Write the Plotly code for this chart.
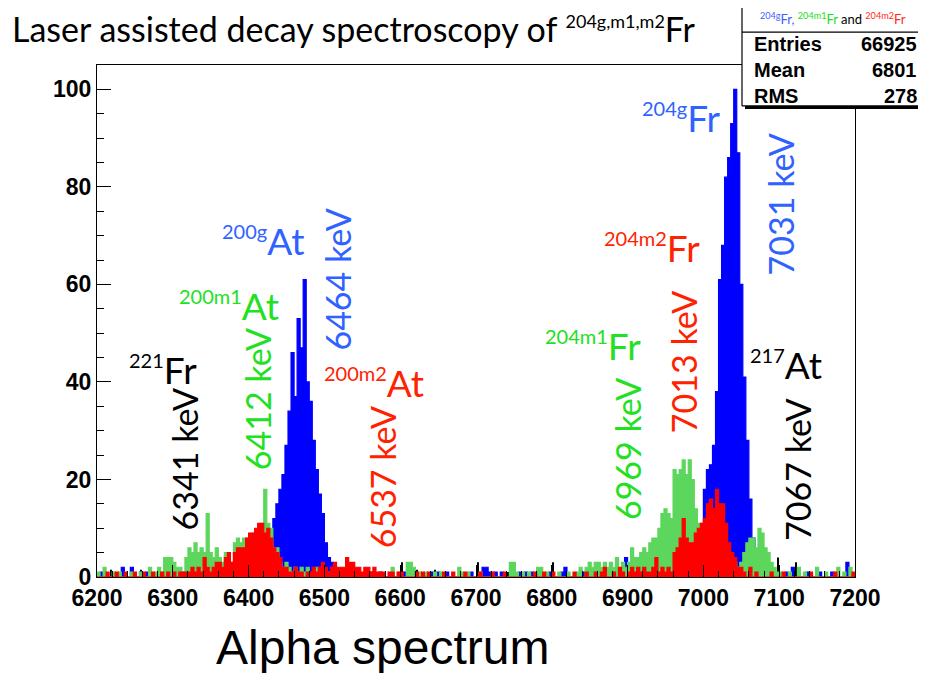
import plotly.graph_objects as go

# ---------------- data ----------------
bin_edges = list(range(6200, 7201, 4))          # 4 keV bins, 6200..7200
x_tick_values = list(range(6200, 7201, 100))
y_tick_values = [0, 20, 40, 60, 80, 100]

# counts per bin, one row = 100 keV (25 bins)
blue_counts = (
    [0,1,0,0,0,0,0,0,2,0,0,2,0,0,1,0,1,0,0,0,0,0,1,0,0] +
    [0,0,0,1,0,0,0,0,0,0,0,0,0,0,0,0,0,0,0,0,1,0,0,0,0] +
    [0,0,0,0,0,1,3,8,12,15,18,21,27,34,46,37,53,47,61,40,36,28,22,17,13] +
    [7,4,3,2,1,0,1,0,0,0,0,0,0,0,0,1,0,0,1,0,0,0,0,0,0] +
    [0,1,0,0,0,0,0,0,0,0,1,0,1,0,0,1,0,0,0,0,0,0,0,1,0] +
    [0,0,2,2,1,0,1,0,1,0,0,0,0,0,1,0,1,0,1,0,0,0,0,0,1] +
    [0,0,0,1,2,0,0,0,0,0,1,0,0,1,0,0,0,0,1,0,0,0,1,0,4] +
    [1,0,1,0,0,0,1,0,0,0,1,0,0,0,0,0,1,0,0,0,0,0,0,2,6] +
    [18,22,23,27,38,61,68,82,86,93,100,87,60,41,28,16,8,2,1,0,0,1,0,0,0] +
    [0,0,1,0,2,0,0,0,0,1,0,0,0,1,0,0,0,1,0,0,0,0,3,0,0]
)
green_counts = (
    [1,0,2,0,0,1,0,1,0,0,0,1,0,0,1,0,0,2,0,1,2,1,4,4,4] +
    [3,2,2,1,4,6,5,7,5,6,5,13,5,4,6,4,3,5,3,2,7,8,7,8,8] +
    [8,9,8,9,11,18,11,10,6,6,3,2,3,2,1,2,1,2,1,2,0,1,2,0,1] +
    [0,1,0,2,0,0,0,0,0,0,1,0,0,0,0,1,0,0,1,0,0,0,2,0,1] +
    [0,0,3,3,2,0,1,0,1,0,0,1,0,1,0,0,0,0,0,2,1,0,1,0,0] +
    [0,1,0,0,0,0,0,0,0,0,0,3,3,1,0,1,0,1,0,0,2,2,0,1,0] +
    [0,0,1,0,0,1,0,0,1,2,0,2,3,2,3,3,2,3,2,3,2,4,2,3,2] +
    [3,6,4,4,5,6,5,7,8,8,10,13,14,13,12,22,21,22,24,21,24,20,14,11,11] +
    [10,6,4,5,3,4,5,6,5,4,3,2,3,5,7,8,8,6,10,9,6,5,3,2,1] +
    [1,0,0,1,0,0,2,0,1,0,0,0,2,0,0,1,0,0,0,2,0,1,0,2,0]
)
red_counts = (
    [0,0,0,1,0,0,1,0,0,1,0,0,1,0,0,1,0,0,1,0,0,1,0,1,0] +
    [1,0,1,1,1,1,2,1,2,1,4,2,1,2,3,3,2,4,5,3,5,6,6,6,8] +
    [9,9,10,11,11,9,10,8,6,5,4,2,2,1,1,2,1,1,0,1,1,2,1,2,3] +
    [2,1,2,3,2,2,2,4,3,3,2,2,1,2,2,1,2,1,1,1,0,1,1,0,1] +
    [1,0,0,0,0,1,0,1,0,1,0,0,0,0,1,0,0,1,0,0,0,1,0,0,0] +
    [0,1,0,0,0,1,0,0,0,1,0,0,0,0,0,0,0,0,0,1,0,0,1,0,0] +
    [1,0,0,0,0,0,0,1,0,0,0,1,0,0,1,0,1,2,0,0,1,0,2,1,0] +
    [1,2,1,2,1,2,1,1,2,4,1,2,1,2,1,5,6,8,12,8,7,7,9,10,11] +
    [12,15,16,14,18,15,15,11,7,5,4,2,2,1,0,2,0,1,0,0,0,0,1,0,0] +
    [0,1,0,0,0,0,0,0,0,0,1,0,0,0,0,0,0,0,1,0,0,0,0,0,1]
)
black_energies = [6216, 6256, 6500, 6540, 6600, 6620, 6644, 6700, 6740, 6800, 6860, 7096, 7120]
black_counts = [1.5, 1.5, 3, 1.5, 3, 1.5, 1.5, 3, 1, 3, 1, 4, 3]

stats_title = ("<span style='color:#3f5fff'><sup>204g</sup>Fr,</span> "
               "<span style='color:#22dd22'><sup>204m1</sup>Fr</span> and "
               "<span style='color:#ff2a1a'><sup>204m2</sup>Fr</span>")
stats_names = ["Entries", "Mean", "RMS"]
stats_values = ["66925", "6801", "278"]

# ---------------- figure ----------------
W, H = 926, 673          # browser window
PAGE_OFF = 8             # default body margin of the html page
L, R, T, B = 97, 855, 65, 577.5   # plot frame in window pixels


def px(x):
    return (x - L) / (R - L)


def py(y):
    return (B - y) / (B - T)


def step(counts):
    return bin_edges, list(counts) + [counts[-1]]


def iso(mass, sym, sup_px=20):
    return "<sup><span style='font-size:%dpx'>%s</span></sup>%s" % (sup_px, mass, sym)


fig = go.Figure()
for counts, col in [(blue_counts, "#0000ff"), (green_counts, "#5cd65c"), (red_counts, "#ff0000")]:
    sx, sy = step(counts)
    fig.add_trace(go.Scatter(x=sx, y=sy, mode="lines", line=dict(shape="hv", color=col, width=1.2),
                             fill="tozeroy", fillcolor=col, hoverinfo="skip", showlegend=False))
fig.add_trace(go.Bar(x=[e + 2 for e in black_energies], y=black_counts, width=1.3,
                     marker=dict(color="black", line=dict(width=0)), showlegend=False))

BLUE_T, GREEN_T, RED_T = "#2f62ff", "#22e022", "#ff2200"
lab_font = "Lato, 'Open Sans', sans-serif"
iso_labels = [
    ("221", "Fr", 6287, 42.5, "black"),
    ("200m1", "At", 6374, 55.7, GREEN_T),
    ("200g", "At", 6419, 69.0, BLUE_T),
    ("200m2", "At", 6565, 39.9, RED_T),
    ("204m1", "Fr", 6854, 47.5, GREEN_T),
    ("204m2", "Fr", 6932, 67.6, RED_T),
    ("204g", "Fr", 6971, 94.2, BLUE_T),
    ("217", "At", 7109, 43.6, "black"),
]
energy_labels = [
    ("6341 keV", 6316, 24.1, "black"),
    ("6412 keV", 6412, 36.4, GREEN_T),
    ("6464 keV", 6518, 61.0, BLUE_T),
    ("6537 keV", 6577, 20.4, RED_T),
    ("6969 keV", 6899, 26.2, GREEN_T),
    ("7013 keV", 6974, 44.0, RED_T),
    ("7031 keV", 7101, 76.4, BLUE_T),
    ("7067 keV", 7125, 22.0, "black"),
]
for mass, sym, xv, yv, col in iso_labels:
    fig.add_annotation(x=xv, y=yv, xref="x", yref="y", text=iso(mass, sym), showarrow=False,
                       font=dict(family=lab_font, size=37, color=col),
                       xanchor="center", yanchor="middle")
for text, xv, yv, col in energy_labels:
    fig.add_annotation(x=xv, y=yv, xref="x", yref="y", text=text, showarrow=False,
                       textangle=-90, font=dict(family=lab_font, size=34, color=col),
                       xanchor="center", yanchor="middle")

# title and bottom caption
fig.add_annotation(x=px(10), y=py(28), xref="paper", yref="paper", xanchor="left", yanchor="middle",
                   text="Laser assisted decay spectroscopy of " + iso("204g,m1,m2", "Fr", 18),
                   showarrow=False, font=dict(family=lab_font, size=34, color="black"))
fig.add_annotation(x=px(383), y=py(648), xref="paper", yref="paper", xanchor="center", yanchor="middle",
                   text="Alpha spectrum", showarrow=False,
                   font=dict(family="'Liberation Sans', Arial, sans-serif", size=48, color="black"))

# stats box
bx0, bx1, by0, by1 = 742, 923, 5, 106
shapes = [
    dict(type="rect", xref="paper", yref="paper", x0=px(bx0 + 3), x1=px(bx1 + 3), y0=py(by0 + 3), y1=py(by1 + 3),
         fillcolor="black", line=dict(width=0)),
    dict(type="rect", xref="paper", yref="paper", x0=px(bx0), x1=px(bx1), y0=py(by0), y1=py(by1),
         fillcolor="white", line=dict(width=0)),
]
for (x0, y0, x1, y1) in [(bx0, by0, bx0, by1), (bx1, by0, bx1, by1), (bx0, by1, bx1, by1),
                         (bx0, 32, bx1, 32), (bx0, by0, bx0 + 11, by0), (bx1 - 11, by0, bx1, by0)]:
    shapes.append(dict(type="line", xref="paper", yref="paper", x0=px(x0), x1=px(x1), y0=py(y0), y1=py(y1),
                       line=dict(color="black", width=1.2)))
fig.update_layout(shapes=shapes)
fig.add_annotation(x=px((bx0 + bx1) / 2), y=py(18), xref="paper", yref="paper", text=stats_title,
                   showarrow=False, xanchor="center", yanchor="middle",
                   font=dict(family=lab_font, size=13, color="black"))
stat_font = dict(family="'Liberation Sans', Arial, sans-serif", size=20, color="black", weight="bold")
for i, (n, v) in enumerate(zip(stats_names, stats_values)):
    yy = 44 + 26 * i
    fig.add_annotation(x=px(752), y=py(yy), xref="paper", yref="paper", text=n, showarrow=False,
                       xanchor="left", yanchor="middle", font=stat_font)
    fig.add_annotation(x=px(919), y=py(yy), xref="paper", yref="paper", text=v, showarrow=False,
                       xanchor="right", yanchor="middle", font=stat_font)

tick_font = dict(family="'Liberation Sans', Arial, sans-serif", size=23, color="black", weight="bold")
fig.update_layout(
    width=W - PAGE_OFF, height=H - PAGE_OFF,
    margin=dict(l=L - PAGE_OFF, r=W - R, t=T - PAGE_OFF, b=H - B),
    paper_bgcolor="white", plot_bgcolor="white", barmode="overlay",
    xaxis=dict(range=[6200, 7200], tickvals=x_tick_values, ticks="inside", ticklen=12, tickcolor="black",
               showline=True, linecolor="black", linewidth=1, mirror=True, showgrid=False, zeroline=False,
               tickfont=tick_font, minor=dict(ticks="inside", ticklen=6, dtick=20, tickcolor="black")),
    yaxis=dict(range=[0, 105], tickvals=y_tick_values, ticks="inside", ticklen=14, tickcolor="black",
               showline=True, linecolor="black", linewidth=1, mirror=True, showgrid=False, zeroline=False,
               tickfont=tick_font, minor=dict(ticks="inside", ticklen=7, dtick=5, tickcolor="black")),
)

fig.write_html("out.html")
